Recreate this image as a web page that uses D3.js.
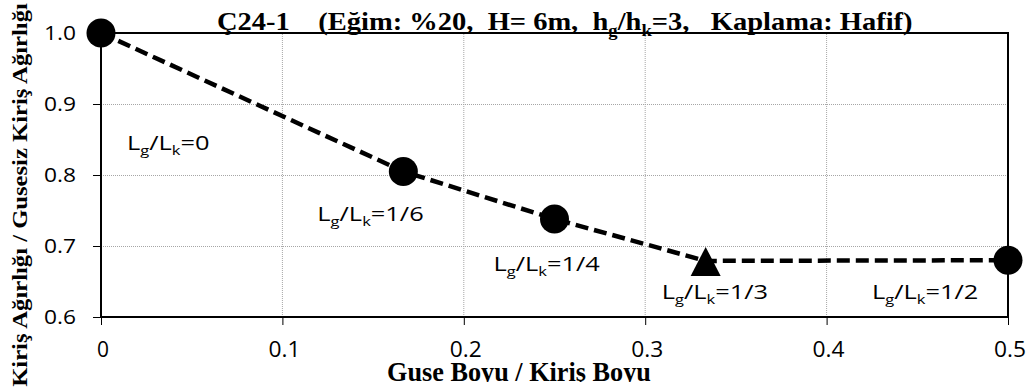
<!DOCTYPE html>
<html>
<head>
<meta charset="utf-8">
<script src="https://cdn.jsdelivr.net/npm/d3@7"></script>
<style>
  body { margin: 0; background: #fff; }
  svg { display: block; }
</style>
</head>
<body>
<div id="chart"></div>
<script>
// Values
const xValues = [0, 1 / 6, 0.25, 1 / 3, 0.5];
const yValues = [1.0, 0.805, 0.738, 0.679, 0.680];
const markerShapes = ["circle", "circle", "circle", "triangle", "circle"];
const pointLabels = ["0", "1/6", "1/4", "1/3", "1/2"];
const xTicks = [0, 0.1, 0.2, 0.3, 0.4, 0.5];
const yTicks = [0.6, 0.7, 0.8, 0.9, 1.0];

// where each L_g/L_k label sits relative to its point (pixels)
const labelOffsets = [[26, 117], [-86, 50], [-61, 52], [-44, 38], [-136, 39]];

const width = 1032;
const height = 389;
const margin = {top: 33, right: 24, bottom: 72, left: 101};

const svg = d3.select("#chart")
  .append("svg")
  .attr("width", width)
  .attr("height", height);

svg.append("rect").attr("width", width).attr("height", height).attr("fill", "#fff");

const x = d3.scaleLinear()
  .domain([0, 0.5])
  .range([margin.left, width - margin.right]);

const y = d3.scaleLinear()
  .domain([0.6, 1.0])
  .range([height - margin.bottom, margin.top]);

const sans = "'Open Sans', 'Noto Sans', sans-serif";
const serif = "'Liberation Serif', 'DejaVu Serif', serif";

// stretch a text group horizontally so it covers the wanted width
function fitText(g, target) {
  const w = g.node().getBBox().width;
  return w > 0 ? target / w : 1;
}

// gridlines
svg.append("g")
  .selectAll("line")
  .data(xTicks.slice(1, -1))
  .join("line")
  .attr("x1", d => x(d)).attr("x2", d => x(d))
  .attr("y1", y(0.6)).attr("y2", y(1.0))
  .attr("stroke", "#a6a6a6")
  .attr("stroke-width", 1)
  .attr("stroke-dasharray", "1,1");

svg.append("g")
  .selectAll("line")
  .data(yTicks.slice(1, -1))
  .join("line")
  .attr("x1", x(0)).attr("x2", x(0.5))
  .attr("y1", d => Math.round(y(d)) + 0.5).attr("y2", d => Math.round(y(d)) + 0.5)
  .attr("stroke", "#a6a6a6")
  .attr("stroke-width", 1)
  .attr("stroke-dasharray", "1,1");

// axes (ticks only, labels drawn separately so they can be stretched)
const xAxis = svg.append("g")
  .attr("transform", `translate(0,${y(0.6)})`)
  .call(d3.axisBottom(x).tickValues(xTicks).tickSize(8).tickFormat(""));
const yAxis = svg.append("g")
  .attr("transform", `translate(${x(0)},0)`)
  .call(d3.axisLeft(y).tickValues(yTicks).tickSize(8).tickFormat(""));
[xAxis, yAxis].forEach(a => {
  a.select(".domain").remove();
  a.selectAll(".tick line").attr("stroke", "#000").attr("stroke-width", 1);
});

// plot frame
svg.append("rect")
  .attr("x", x(0)).attr("y", y(1.0))
  .attr("width", x(0.5) - x(0))
  .attr("height", y(0.6) - y(1.0))
  .attr("fill", "none")
  .attr("stroke", "#000")
  .attr("stroke-width", 2);

// tick labels
yTicks.forEach(t => {
  const g = svg.append("g");
  g.append("text")
    .attr("text-anchor", "end")
    .attr("dy", "0.36em")
    .attr("font-family", sans)
    .attr("font-size", 20)
    .attr("fill", "#000")
    .text(d3.format(".1f")(t));
  const k = fitText(g, 32);
  g.attr("transform", `translate(76,${y(t)}) scale(${k},1)`);
});

xTicks.forEach(t => {
  const g = svg.append("g");
  g.append("text")
    .attr("text-anchor", "middle")
    .attr("font-family", sans)
    .attr("font-size", 21)
    .attr("fill", "#000")
    .text(t === 0 ? "0" : d3.format(".1f")(t));
  const k = fitText(g, t === 0 ? 12 : 32);
  g.attr("transform", `translate(${x(t) + 2},357) scale(${k},1)`);
});

// dashed series line
const points = xValues.map((v, i) => [x(v), y(yValues[i])]);
svg.append("path")
  .attr("d", d3.line()(points))
  .attr("fill", "none")
  .attr("stroke", "#000")
  .attr("stroke-width", 4.5)
  .attr("stroke-dasharray", "13,6");

// markers
points.forEach((p, i) => {
  if (markerShapes[i] === "triangle") {
    svg.append("path")
      .attr("d", `M${p[0]},${p[1] - 14}L${p[0] + 15},${p[1] + 15}L${p[0] - 15},${p[1] + 15}Z`)
      .attr("fill", "#000");
  } else {
    svg.append("circle")
      .attr("cx", p[0]).attr("cy", p[1])
      .attr("r", 14.5)
      .attr("fill", "#000");
  }
});

// L_g / L_k annotations
points.forEach((p, i) => {
  const g = svg.append("g");
  const t = g.append("text")
    .attr("font-family", sans)
    .attr("font-size", 20)
    .attr("fill", "#000");
  t.append("tspan").text("L");
  t.append("tspan").attr("font-size", 13).attr("dy", 5).text("g");
  t.append("tspan").attr("dy", -5).text("/L");
  t.append("tspan").attr("font-size", 13).attr("dy", 5).text("k");
  t.append("tspan").attr("dy", -5).text("=" + pointLabels[i]);
  g.attr("transform", `translate(${p[0] + labelOffsets[i][0]},${p[1] + labelOffsets[i][1]}) scale(1.27,1)`);
});

// title
const titleG = svg.append("g");
const title = titleG.append("text")
  .attr("font-family", serif)
  .attr("font-weight", "bold")
  .attr("font-size", 26)
  .attr("fill", "#000")
  .style("white-space", "pre");
title.append("tspan").text("Ç24-1    (Eğim: %20,  H= 6m,  h");
title.append("tspan").attr("font-size", 17).attr("dy", 6).text("g");
title.append("tspan").attr("dy", -6).text("/h");
title.append("tspan").attr("font-size", 17).attr("dy", 6).text("k");
title.append("tspan").attr("dy", -6).text("=3,   Kaplama: Hafif)");
const tk = fitText(titleG, 696);
titleG.attr("transform", `translate(217,30) scale(${tk},1)`);

// y axis title
const yTitleG = svg.append("g");
yTitleG.append("text")
  .attr("text-anchor", "middle")
  .attr("font-family", serif)
  .attr("font-weight", "bold")
  .attr("font-size", 21)
  .attr("fill", "#000")
  .text("Kiriş Ağırlığı / Gusesiz Kiriş Ağırlığı");
const yk = fitText(yTitleG, 384);
yTitleG.attr("transform", `translate(27,195) rotate(-90) scale(${yk},1)`);

// x axis title, cut at the bottom like the reference
svg.append("clipPath").attr("id", "xclip")
  .append("rect").attr("x", 0).attr("y", 0).attr("width", width).attr("height", 382);
const xTitleG = svg.append("g").attr("clip-path", "url(#xclip)").append("g");
xTitleG.append("text")
  .attr("font-family", serif)
  .attr("font-weight", "bold")
  .attr("font-size", 28)
  .attr("fill", "#000")
  .text("Guse Boyu / Kiriş Boyu");
const xk = fitText(xTitleG, 264);
xTitleG.attr("transform", `translate(387,381) scale(${xk},1)`);
</script>
</body>
</html>
